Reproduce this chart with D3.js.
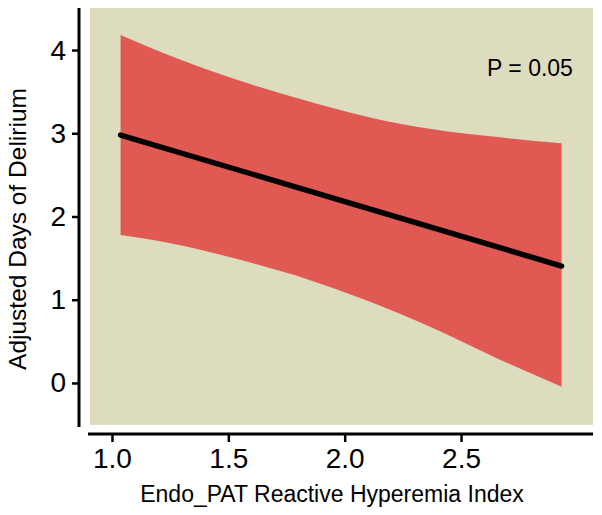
<!DOCTYPE html>
<html>
<head>
<meta charset="utf-8">
<script src="https://cdn.jsdelivr.net/npm/d3@7"></script>
<style>
  html, body { margin: 0; padding: 0; background: #ffffff; }
  svg { display: block; }
  text { font-family: "Liberation Sans", Arial, Helvetica, sans-serif; fill: #000; }
</style>
</head>
<body>
<svg id="chart" width="602" height="515"></svg>
<script>
// ---- data ----
const bandX     = [1.037, 1.278, 1.563, 1.851, 2.095, 2.379, 2.667, 2.932];
const bandUpper = [4.180, 3.900, 3.619, 3.379, 3.199, 3.047, 2.951, 2.879];
const bandLower = [1.778, 1.665, 1.470, 1.235, 0.990, 0.660, 0.280, -0.044];
const fitX      = [1.037, 2.932];
const fitY      = [2.979, 1.405];
const xTicks    = [1.0, 1.5, 2.0, 2.5];
const yTicks    = [0, 1, 2, 3, 4];
const xTitle    = "Endo_PAT Reactive Hyperemia Index";
const yTitle    = "Adjusted Days of Delirium";
const pLabel    = "P = 0.05";

const svg = d3.select("#chart");

const x = d3.scaleLinear().domain([0.897, 3.067]).range([88, 593]);
const y = d3.scaleLinear().domain([-0.529, 4.505]).range([427, 8]);

// panel background
svg.append("rect")
  .attr("x", 90).attr("y", 8)
  .attr("width", 593 - 90).attr("height", 425 - 8)
  .attr("fill", "#DDDCBF");

// confidence band
const band = bandX.map((d, i) => ({x: d, lo: bandLower[i], hi: bandUpper[i]}));
svg.append("path")
  .datum(band)
  .attr("fill", "#E05A53")
  .attr("d", d3.area()
    .x(d => x(d.x)).y0(d => y(d.lo)).y1(d => y(d.hi))
    .curve(d3.curveMonotoneX));

// fitted line
svg.append("path")
  .datum(fitX.map((d, i) => ({x: d, y: fitY[i]})))
  .attr("fill", "none")
  .attr("stroke", "#000")
  .attr("stroke-width", 5.5)
  .attr("stroke-linecap", "round")
  .attr("d", d3.line().x(d => x(d.x)).y(d => y(d.y)));

// y axis
const yAxis = svg.append("g")
  .attr("transform", "translate(79,0)")
  .call(d3.axisLeft(y).tickValues(yTicks).tickFormat(d3.format("d")).tickSize(7).tickSizeOuter(0).tickPadding(6));
yAxis.select(".domain").attr("stroke-width", 3).attr("d", `M0,${y.range()[0]}V${y.range()[1]}`);
yAxis.selectAll(".tick line").attr("stroke-width", 2.5);
yAxis.selectAll(".tick text")
  .style("font-family", "'Liberation Sans', Arial, sans-serif")
  .style("font-size", "28px");

// x axis
const xAxis = svg.append("g")
  .attr("transform", "translate(0,434)")
  .call(d3.axisBottom(x).tickValues(xTicks).tickFormat(d3.format(".1f")).tickSize(8).tickSizeOuter(0).tickPadding(6));
xAxis.select(".domain").attr("stroke-width", 3).attr("d", `M${x.range()[0]},0H${x.range()[1]}`);
xAxis.selectAll(".tick line").attr("stroke-width", 2.5);
xAxis.selectAll(".tick text")
  .style("font-family", "'Liberation Sans', Arial, sans-serif")
  .style("font-size", "28px");

// axis titles
svg.append("text")
  .attr("x", 332).attr("y", 502)
  .attr("text-anchor", "middle")
  .style("font-size", "23px")
  .text(xTitle);

svg.append("text")
  .attr("transform", "translate(26,229) rotate(-90)")
  .attr("text-anchor", "middle")
  .style("font-size", "24.5px")
  .text(yTitle);

// p-value annotation
svg.append("text")
  .attr("x", 487).attr("y", 76)
  .style("font-size", "23px")
  .text(pLabel);
</script>
</body>
</html>
